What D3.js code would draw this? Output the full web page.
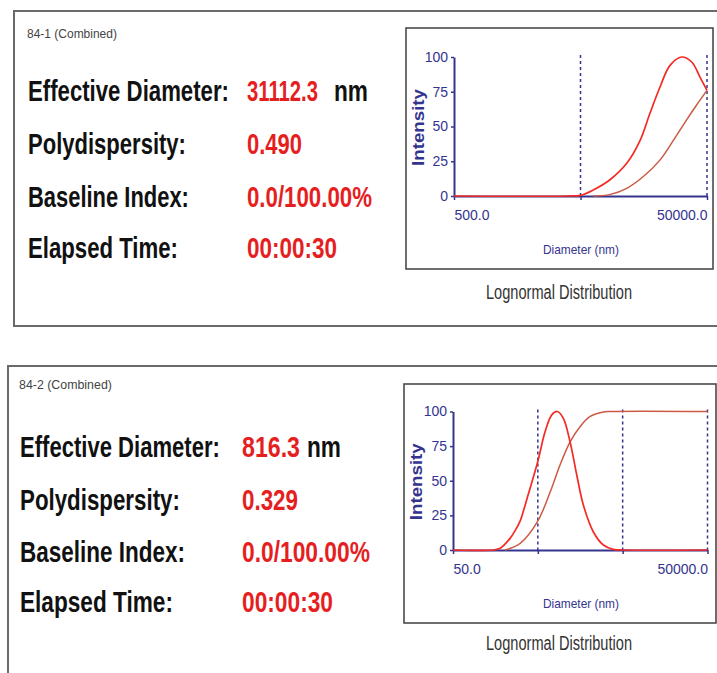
<!DOCTYPE html>
<html>

<head>
  <meta charset="utf-8">
  <title>Lognormal Distribution</title>
  <style>
    body,
    html {
      margin: 0;
      padding: 0;
      background: #fff;
    }

    text {
      font-family: "Liberation Sans Narrow", "Arial Narrow", "Liberation Sans", Arial, sans-serif;
    }
  </style>
</head>

<body>

  <svg id="svg" width="717" height="673"></svg>

  <script src="https://d3js.org/d3.v7.min.js"></script>
  <script>
    // summary rows
    const labels = ["Effective Diameter:", "Polydispersity:", "Baseline Index:", "Elapsed Time:"]
    const values1 = ["31112.3", "0.490", "0.0/100.00%", "00:00:30"]
    const values2 = ["816.3", "0.329", "0.0/100.00%", "00:00:30"]

    // intensity ticks
    const yTicks = [0, 25, 50, 75, 100]

    // sample 84-1, diameter range 500 - 50000 nm
    const ticks1 = [500, 5000, 50000]
    const dist1D = [500, 4000, 5000, 6300, 8500, 11600, 14800, 17700, 21300, 25500, 31500, 37900, 44000, 50000]
    const dist1I = [0, 0, 0.5, 4.3, 11.5, 23.5, 40, 59.5, 78.6, 94, 100, 96.4, 85.5, 76]
    const cum1D = [6300, 8500, 11600, 15700, 21300, 27100, 34600, 41400, 50000]
    const cum1I = [0, 1, 5.5, 14, 26, 40, 55, 65.5, 76]

    // sample 84-2, diameter range 50 - 50000 nm
    const ticks2 = [50, 500, 5000, 50000]
    const dist2D = [50, 150, 180, 235, 270, 310, 345, 385, 495, 610, 730, 850, 1000, 1200, 1440, 1720, 2260, 2960, 3880, 5000, 50000]
    const dist2I = [0, 0, 1.2, 8.4, 14, 21, 30, 40, 63, 85.5, 97.6, 100, 95, 78, 54, 32.5, 13, 3.6, 0.5, 0, 0]
    const cum2D = [205, 310, 495, 700, 915, 1200, 1570, 2070, 2960, 3550, 50000]
    const cum2I = [0, 4.8, 20.5, 42, 61.5, 78, 89, 96.4, 99.6, 100, 100]

    const navy = "#34348f"
    const red = "#f52a25"
    const red2 = "#cc5a45"

    const svg = d3.select("#svg")

    function zip(ds, is) {
      return ds.map((d, i) => ({ d: d, v: is[i] }))
    }

    // squeeze a text horizontally so it spans len pixels
    function fitText(g, str, x, y, len, size, color, weight) {
      const t = g.append("text")
        .attr("font-size", size)
        .attr("font-weight", weight || "normal")
        .attr("fill", color)
        .text(str)
      const w = t.node().getComputedTextLength()
      t.attr("transform", `translate(${x},${y}) scale(${len / w},1)`)
      return t
    }

    function drawPanel(p) {
      const g = svg.append("g")

      // outer frame
      g.append("rect")
        .attr("x", p.frame[0]).attr("y", p.frame[1])
        .attr("width", p.frame[2]).attr("height", p.frame[3])
        .attr("fill", "none").attr("stroke", "#6a6a6a").attr("stroke-width", 2)

      fitText(g, p.title, p.tx, p.titleY, p.titleW, 13, "#444")

      labels.forEach((lab, i) => {
        fitText(g, lab, p.tx + 1, p.rowY[i], p.labW[i], 30, "#111", "bold")
        fitText(g, p.values[i], p.vx, p.rowY[i], p.valW[i], 30, "#e51f1f", "bold")
      })
      fitText(g, "nm", p.nmX, p.rowY[0], 34, 30, "#111", "bold")

      // chart box
      g.append("rect")
        .attr("x", p.box[0]).attr("y", p.box[1])
        .attr("width", p.box[2]).attr("height", p.box[3])
        .attr("fill", "none").attr("stroke", "#4a4a4a").attr("stroke-width", 1.6)

      const x = d3.scaleLog()
        .domain([p.ticks[0], p.ticks[p.ticks.length - 1]])
        .range([p.plotX[0], p.plotX[1]])

      const y = d3.scaleLinear()
        .domain([0, 100])
        .range([p.plotY[0], p.plotY[1]])

      // dashed decade lines
      g.selectAll(".grid")
        .data(p.ticks.slice(1))
        .join("line")
        .attr("x1", d => x(d)).attr("x2", d => x(d))
        .attr("y1", y(100) - 2).attr("y2", y(0))
        .attr("stroke", navy).attr("stroke-width", 1.5)
        .attr("stroke-dasharray", "3,3")

      const xAxis = g.append("g")
        .attr("transform", `translate(0,${y(0)})`)
        .call(d3.axisBottom(x).tickValues(p.ticks).tickSize(4).tickSizeOuter(0).tickPadding(10)
          .tickFormat((d, i) => (i === 0 || i === p.ticks.length - 1) ? d.toFixed(1) : ""))
      xAxis.select(".domain").attr("stroke", navy).attr("stroke-width", 2)
      xAxis.selectAll(".tick line").attr("stroke", navy).attr("stroke-width", 1.5)
      xAxis.selectAll(".tick text")
        .attr("fill", navy).attr("font-size", 14)
        .attr("font-family", "Liberation Sans Narrow, Liberation Sans, Arial")
        .attr("text-anchor", (d, i) => i === 0 ? "start" : "end")

      const yAxis = g.append("g")
        .attr("transform", `translate(${p.plotX[0]},0)`)
        .call(d3.axisLeft(y).tickValues(yTicks).tickSize(3).tickSizeOuter(0).tickPadding(3))
      yAxis.select(".domain").attr("stroke", navy).attr("stroke-width", 2)
      yAxis.selectAll(".tick line").attr("stroke", navy).attr("stroke-width", 1.5)
      yAxis.selectAll(".tick text")
        .attr("fill", navy).attr("font-size", 14)
        .attr("font-family", "Liberation Sans Narrow, Liberation Sans, Arial")

      // axis titles
      g.append("text")
        .attr("transform", `translate(${p.box[0] + 18},${(y(0) + y(100)) / 2 + 1}) rotate(-90)`)
        .attr("text-anchor", "middle")
        .attr("textLength", 77).attr("lengthAdjust", "spacingAndGlyphs")
        .attr("font-size", 17).attr("font-weight", "bold").attr("fill", navy)
        .attr("font-family", "Liberation Sans, Arial")
        .text("Intensity")

      g.append("text")
        .attr("x", 581).attr("y", p.diamY)
        .attr("text-anchor", "middle")
        .attr("textLength", 76).attr("lengthAdjust", "spacingAndGlyphs")
        .attr("font-size", 13).attr("fill", navy)
        .text("Diameter (nm)")

      g.append("text")
        .attr("x", 559).attr("y", p.capY)
        .attr("text-anchor", "middle")
        .attr("textLength", 146).attr("lengthAdjust", "spacingAndGlyphs")
        .attr("font-size", 20).attr("fill", "#333")
        .text("Lognormal Distribution")

      const line = d3.line()
        .x(d => x(d.d))
        .y(d => y(d.v))
        .curve(d3.curveCatmullRom.alpha(0.5))

      g.append("path")
        .attr("d", line(zip(p.cumD, p.cumI)))
        .attr("fill", "none").attr("stroke", red2).attr("stroke-width", 1.5)

      g.append("path")
        .attr("d", line(zip(p.distD, p.distI)))
        .attr("fill", "none").attr("stroke", red).attr("stroke-width", 1.7)
    }

    drawPanel({
      frame: [14, 11, 720, 315],
      title: "84-1 (Combined)", tx: 27, titleY: 38, titleW: 90,
      rowY: [101, 154, 207, 258],
      labW: [201, 158, 161, 150],
      values: values1, vx: 247, valW: [71, 55, 125, 90], nmX: 334,
      box: [406, 28, 307, 241],
      ticks: ticks1, plotX: [454, 707], plotY: [196, 57],
      diamY: 254, capY: 299,
      distD: dist1D, distI: dist1I, cumD: cum1D, cumI: cum1I
    })

    drawPanel({
      frame: [8, 366, 720, 320],
      title: "84-2 (Combined)", tx: 19, titleY: 389, titleW: 93,
      rowY: [457, 510, 562, 612],
      labW: [200, 160, 165, 153],
      values: values2, vx: 242, valW: [58, 56, 128, 91], nmX: 307,
      box: [404, 384, 312, 239],
      ticks: ticks2, plotX: [453, 707.5], plotY: [550, 411.5],
      diamY: 608, capY: 650,
      distD: dist2D, distI: dist2I, cumD: cum2D, cumI: cum2I
    })
  </script>
</body>

</html>
